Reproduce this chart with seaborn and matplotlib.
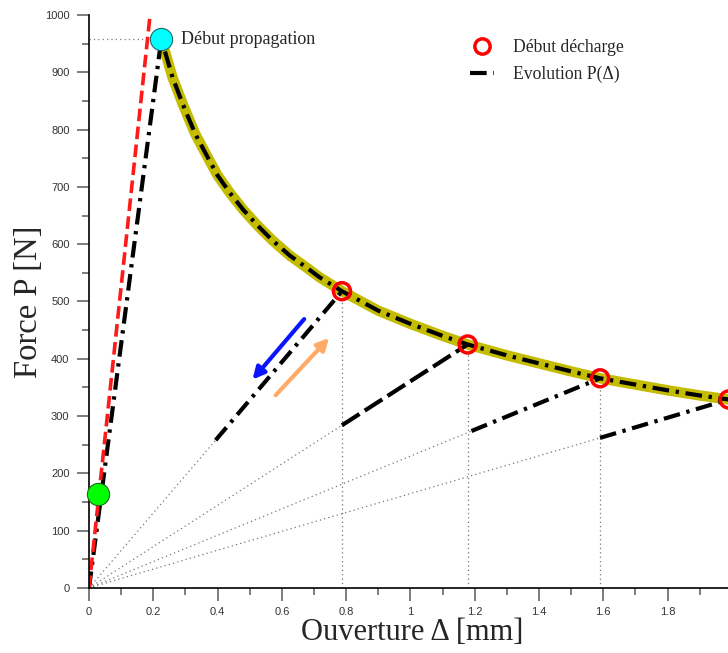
import numpy as np
import pandas as pd
import seaborn as sns
import matplotlib.pyplot as plt

# Courbe de propagation
prop_x = [0.225, 0.26, 0.292, 0.33, 0.367, 0.40, 0.439, 0.48, 0.522, 0.57, 0.625, 0.67, 0.718, 0.787,
          0.9, 1.0, 1.1, 1.178, 1.3, 1.4, 1.5, 1.59, 1.7, 1.8, 1.9, 1.99]
prop_y = [958, 891, 844, 793, 754, 720, 689, 660, 634, 607, 580, 562, 542, 518,
          484, 461, 440, 425, 406, 392, 378, 366, 355, 345, 336, 329]

# Chargement initial
load_x = [0.0, 0.225]
load_y = [0, 958]
elastic_x = [0.0, 0.19]
elastic_y = [0, 1000]

# Points de debut de decharge
dech_x = [0.787, 1.178, 1.59, 1.99]
dech_y = [518, 425, 366, 329]
# fin des segments de decharge
fin_x = [0.394, 0.787, 1.19, 1.59]
fin_y = [258, 284, 274, 262]

green_pt = (0.028, 164)
cyan_pt = (0.225, 958)

sns.set_style("ticks")
plt.rcParams['font.family'] = ['Liberation Serif', 'DejaVu Serif']

fig = plt.figure(figsize=(7.28, 6.53), dpi=100)
ax = fig.add_axes([89 / 728, 65 / 653, 639 / 728, 573 / 653])

dotted = dict(color='#777777', lw=0.9, linestyle=(0, (1, 2.5)))

# lignes pointillees de construction
ax.plot([0, cyan_pt[0]], [cyan_pt[1], cyan_pt[1]], **dotted)
for xd, yd in zip(dech_x, dech_y):
    ax.plot([xd, xd], [0, yd], **dotted)
for xf, yf in zip(fin_x, fin_y):
    ax.plot([0, xf], [0, yf], **dotted)

# courbe jaune epaisse
sns.lineplot(x=prop_x, y=prop_y, sort=False, estimator=None, color='#c4bc00', lw=7.5,
             solid_capstyle='round', ax=ax)

dashdot = (0, (4, 1.6, 0.8, 1.6))
evo = pd.DataFrame({'x': load_x + prop_x, 'y': load_y + prop_y})
sns.lineplot(data=evo, x='x', y='y', sort=False, estimator=None, color='black', lw=3,
             linestyle=dashdot, ax=ax)

# droite elastique rouge
sns.lineplot(x=elastic_x, y=elastic_y, sort=False, estimator=None, color='#ff1a1a', lw=2.6,
             linestyle=(0, (3.5, 1.5)), ax=ax)

# segments de decharge
styles = [dashdot, (0, (5, 1.5)), dashdot, dashdot]
for xd, yd, xf, yf, ls in zip(dech_x, dech_y, fin_x, fin_y, styles):
    ax.plot([xf, xd], [yf, yd], color='black', lw=3, linestyle=ls)

# fleches
ax.annotate('', xy=(0.503, 360), xytext=(0.675, 473),
            arrowprops=dict(arrowstyle='-|>,head_length=0.7,head_width=0.35', color='#0a14ff', lw=3))
ax.annotate('', xy=(0.753, 440), xytext=(0.575, 333),
            arrowprops=dict(arrowstyle='-|>,head_length=0.7,head_width=0.35', color='#ffaa66', lw=3))

sns.scatterplot(x=dech_x, y=dech_y, s=150, facecolor='none', edgecolor='#ff0000', linewidth=2.5,
                zorder=5, clip_on=False, ax=ax)
ax.plot(*green_pt, 'o', ms=16, mfc='#00ff00', mec='#226622', mew=0.8, zorder=6, clip_on=False)
ax.plot(*cyan_pt, 'o', ms=16, mfc='#00ffff', mec='#226666', mew=0.8, zorder=6, clip_on=False)

ax.text(0.285, 958, 'Début propagation', fontsize=13, va='center', ha='left')

# legende
h1 = plt.Line2D([], [], marker='o', ls='none', ms=11, mfc='none', mec='#ff0000', mew=2.5)
h2 = plt.Line2D([], [], color='black', lw=3, linestyle=dashdot)
ax.legend([h1, h2], ['Début décharge', 'Evolution P(Δ)'], frameon=False, fontsize=12.7,
          loc='upper left', bbox_to_anchor=(0.571, 0.985), handlelength=1.4, labelspacing=0.55,
          handletextpad=1.05)

ax.set_xlim(0, 1.988)
ax.set_ylim(0, 1000)
ax.set_xticks(np.arange(0, 2.0, 0.2))
ax.set_xticklabels(['0', '0.2', '0.4', '0.6', '0.8', '1', '1.2', '1.4', '1.6', '1.8'])
ax.set_xticks(np.arange(0.1, 2.0, 0.2), minor=True)
ax.set_yticks(np.arange(0, 1001, 100))
ax.set_yticks(np.arange(50, 1000, 100), minor=True)
for lab in ax.get_xticklabels() + ax.get_yticklabels():
    lab.set_family(['Liberation Sans', 'DejaVu Sans'])
    lab.set_fontsize(8)
    lab.set_color('#333333')
ax.tick_params(which='major', length=9, width=1.2, color='#666666', pad=5)
ax.tick_params(which='minor', length=5, width=1.2, color='#666666')
sns.despine(ax=ax)
for s in ['left', 'bottom']:
    ax.spines[s].set_linewidth(1.2)
    ax.spines[s].set_color('black')

ax.set_xlabel('Ouverture Δ [mm]', fontsize=22)
ax.set_ylabel('Force P [N]', fontsize=23.5)
# position des titres d'axes (coordonnees axes)
ax.xaxis.set_label_coords((412 - 89) / 639, -(632 - 588) / 573)
ax.yaxis.set_label_coords(-(89 - 29) / 639, 0.5)
ax.xaxis.label.set_va('center')
ax.yaxis.label.set_va('center')

fig.savefig('out.png', dpi=100)
